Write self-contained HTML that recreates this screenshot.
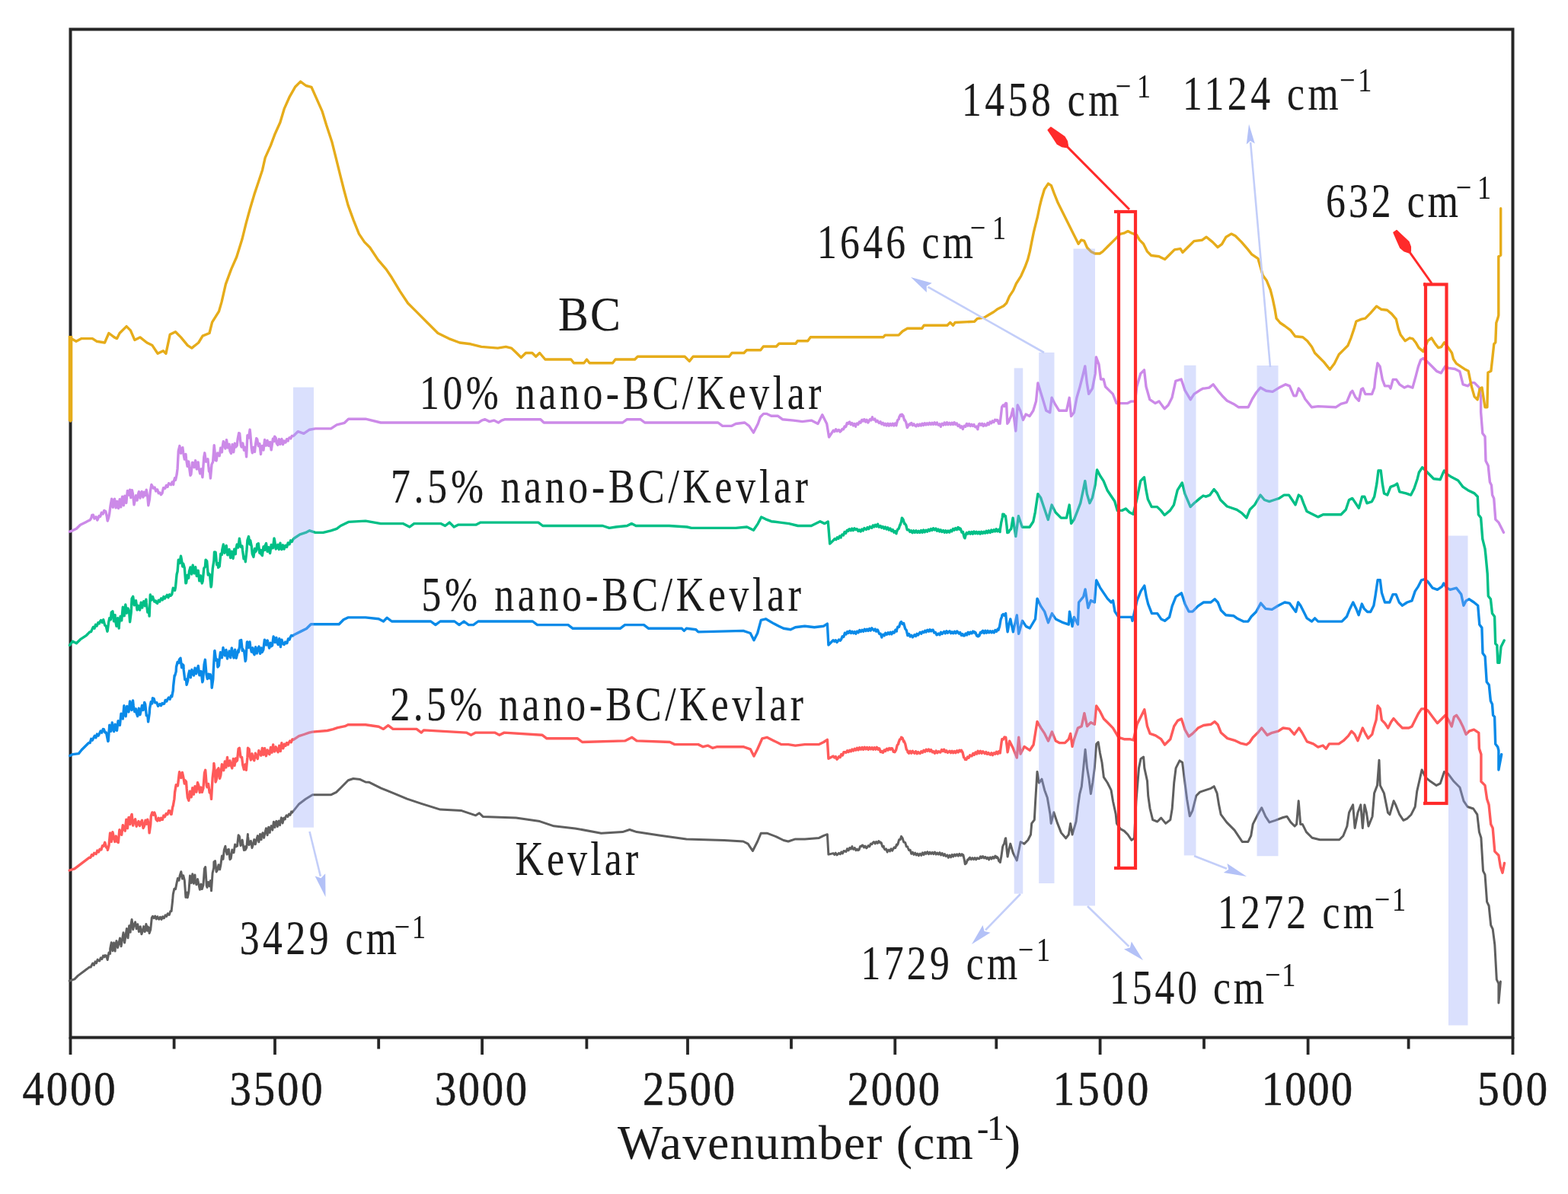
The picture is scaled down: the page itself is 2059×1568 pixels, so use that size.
<!DOCTYPE html><html><head><meta charset="utf-8"><style>html,body{margin:0;padding:0;background:#fff;overflow:hidden}svg{display:block}</style></head><body><svg width="2059" height="1568" viewBox="0 0 2059 1568">
<rect width="2059" height="1568" fill="#fff"/>
<rect x="92.5" y="38.5" width="1894" height="1324" fill="none" stroke="#262626" stroke-width="4"/>
<line x1="92.5" y1="1362" x2="92.5" y2="1385" stroke="#262626" stroke-width="3.8"/>
<line x1="228.6" y1="1362" x2="228.6" y2="1377.5" stroke="#262626" stroke-width="3.8"/>
<line x1="361.0" y1="1362" x2="361.0" y2="1385" stroke="#262626" stroke-width="3.8"/>
<line x1="497.2" y1="1362" x2="497.2" y2="1377.5" stroke="#262626" stroke-width="3.8"/>
<line x1="633.1" y1="1362" x2="633.1" y2="1385" stroke="#262626" stroke-width="3.8"/>
<line x1="770.4" y1="1362" x2="770.4" y2="1377.5" stroke="#262626" stroke-width="3.8"/>
<line x1="903.0" y1="1362" x2="903.0" y2="1385" stroke="#262626" stroke-width="3.8"/>
<line x1="1039.0" y1="1362" x2="1039.0" y2="1377.5" stroke="#262626" stroke-width="3.8"/>
<line x1="1175.3" y1="1362" x2="1175.3" y2="1385" stroke="#262626" stroke-width="3.8"/>
<line x1="1308.3" y1="1362" x2="1308.3" y2="1377.5" stroke="#262626" stroke-width="3.8"/>
<line x1="1444.6" y1="1362" x2="1444.6" y2="1385" stroke="#262626" stroke-width="3.8"/>
<line x1="1581.0" y1="1362" x2="1581.0" y2="1377.5" stroke="#262626" stroke-width="3.8"/>
<line x1="1717.6" y1="1362" x2="1717.6" y2="1385" stroke="#262626" stroke-width="3.8"/>
<line x1="1849.6" y1="1362" x2="1849.6" y2="1377.5" stroke="#262626" stroke-width="3.8"/>
<line x1="1986.5" y1="1362" x2="1986.5" y2="1385" stroke="#262626" stroke-width="3.8"/>
<polyline points="91.2,1288.1 97.9,1285.9 102.3,1281.4 111.2,1274.7 112.8,1273.5 114.5,1272.3 116.0,1271.1 117.7,1269.9 119.2,1270.1 120.2,1268.0 121.8,1265.0 123.4,1267.4 125.0,1262.9 126.6,1264.8 128.2,1260.1 129.1,1261.3 130.7,1262.0 132.3,1257.8 133.9,1259.5 135.5,1255.0 137.1,1256.9 138.0,1254.6 139.6,1254.9 141.2,1260.5 141.4,1259.1 143.0,1250.9 144.6,1252.4 144.7,1245.7 146.3,1237.7 147.9,1248.8 149.5,1238.0 151.1,1249.1 151.4,1243.5 153.0,1235.6 154.6,1244.5 155.9,1239.0 157.5,1232.0 159.1,1242.7 160.4,1234.6 162.0,1224.8 163.6,1238.0 164.8,1230.1 166.4,1219.6 168.0,1231.8 169.6,1215.8 171.2,1224.2 171.5,1216.7 173.1,1207.5 174.7,1220.8 176.0,1214.5 177.6,1210.9 179.2,1219.7 180.8,1213.8 182.4,1223.6 182.7,1218.9 184.3,1216.8 185.9,1226.8 187.1,1223.4 188.7,1216.6 190.3,1223.6 191.9,1213.6 193.5,1222.3 193.8,1216.7 195.4,1218.3 196.1,1225.6 197.7,1220.8 199.3,1205.3 200.5,1203.3 202.1,1205.7 203.7,1203.0 205.3,1206.9 206.9,1203.7 207.2,1205.5 208.8,1207.2 210.4,1204.2 212.0,1207.4 213.6,1203.7 213.9,1205.5 215.5,1205.8 217.1,1201.9 218.7,1203.5 220.3,1199.7 220.6,1201.1 222.2,1201.4 223.8,1196.7 225.1,1196.6 226.7,1182.0 227.3,1174.3 228.9,1167.2 230.5,1167.6 231.8,1160.9 233.4,1153.4 235.0,1156.2 236.2,1149.7 237.8,1144.8 239.4,1154.1 240.7,1149.7 242.3,1156.0 243.9,1178.4 244.1,1174.3 245.7,1172.0 246.3,1178.8 247.9,1170.9 249.5,1149.9 249.6,1154.2 251.2,1159.5 252.8,1147.8 254.4,1160.3 256.0,1149.1 256.3,1154.2 257.9,1161.7 259.5,1154.5 260.8,1160.9 262.4,1168.3 264.0,1161.1 265.3,1167.6 266.9,1162.4 268.5,1140.7 269.7,1138.6 271.3,1163.2 272.0,1165.4 273.6,1158.4 275.2,1163.7 276.4,1156.4 277.5,1169.8 279.1,1146.5 280.7,1139.6 280.9,1131.9 282.5,1130.6 284.1,1144.9 285.4,1143.0 287.0,1135.7 288.6,1141.9 289.8,1136.3 291.4,1124.1 293.0,1128.3 294.3,1116.2 295.9,1111.2 296.5,1116.2 298.1,1122.0 298.8,1116.2 300.4,1115.4 301.9,1128.7 303.2,1127.4 304.8,1116.0 305.4,1118.5 307.0,1119.7 308.6,1108.9 309.9,1111.8 311.5,1111.0 313.1,1096.8 314.4,1098.4 316.0,1110.6 316.6,1109.6 318.2,1103.1 318.8,1107.3 320.4,1116.6 322.0,1111.7 322.2,1116.2 323.8,1113.0 325.4,1095.6 325.5,1098.4 327.1,1109.5 327.8,1107.3 329.4,1104.4 331.0,1113.4 332.2,1109.6 333.8,1102.4 335.4,1108.8 336.7,1102.9 338.3,1097.6 339.9,1105.8 341.5,1095.4 343.1,1102.6 343.4,1098.4 345.0,1093.7 346.6,1100.3 347.9,1093.9 349.5,1087.7 351.1,1096.8 352.7,1086.3 354.3,1093.4 354.6,1089.5 356.2,1084.6 357.8,1090.1 359.4,1079.2 361.0,1086.5 361.2,1082.8 362.9,1078.3 364.4,1085.5 366.1,1078.1 367.6,1083.7 367.9,1080.5 369.5,1073.9 371.1,1081.0 372.7,1074.2 374.3,1076.0 374.6,1073.8 376.2,1070.8 377.8,1072.6 379.4,1069.1 381.0,1070.3 382.6,1065.9 383.6,1067.1 385.2,1065.1 386.8,1063.1 388.4,1061.1 390.0,1059.1 391.6,1057.1 392.5,1056.0 401.4,1049.3 410.4,1043.7 419.3,1043.7 434.9,1043.7 441.6,1040.4 448.3,1033.7 457.2,1024.7 463.9,1022.5 472.9,1023.6 480.0,1027.0 484.9,1027.3 500.4,1035.1 516.0,1041.3 534.6,1049.1 553.3,1055.3 578.1,1063.1 606.1,1064.6 624.7,1070.8 629.4,1067.7 634.1,1072.4 677.6,1074.0 708.7,1078.6 727.3,1084.8 755.3,1087.9 789.5,1094.2 817.5,1092.6 826.8,1089.5 836.1,1092.6 867.2,1097.3 901.4,1101.9 951.1,1103.5 976.0,1105.0 982.2,1108.2 988.4,1117.5 994.7,1105.0 999.3,1094.2 1007.1,1094.2 1019.5,1098.8 1028.9,1103.5 1035.1,1105.0 1044.4,1101.9 1056.8,1101.9 1075.5,1100.4 1081.7,1097.3 1086.4,1095.7 1087.9,1122.1 1094.1,1120.6 1095.7,1122.3 1097.3,1120.2 1098.9,1122.8 1100.0,1122.1 1101.6,1120.3 1103.2,1121.7 1104.8,1118.9 1106.4,1120.8 1108.0,1117.5 1109.4,1117.8 1111.0,1118.5 1112.6,1114.6 1114.2,1116.8 1115.8,1113.3 1117.4,1114.9 1119.0,1111.6 1119.1,1113.0 1120.7,1115.3 1122.3,1113.4 1123.9,1116.6 1125.5,1115.1 1126.4,1116.6 1128.0,1116.0 1129.6,1111.5 1131.2,1111.5 1131.3,1110.6 1132.9,1110.0 1134.5,1112.9 1136.1,1111.1 1137.7,1113.8 1138.6,1113.0 1140.2,1110.6 1141.8,1111.7 1143.4,1108.1 1145.0,1108.7 1145.9,1106.9 1147.5,1105.6 1149.1,1107.9 1150.7,1105.4 1152.3,1107.4 1153.9,1104.6 1155.5,1106.7 1155.6,1105.7 1157.2,1106.7 1158.8,1111.9 1160.4,1111.3 1160.4,1113.0 1162.0,1115.8 1163.6,1114.9 1165.2,1119.0 1165.3,1117.8 1166.9,1116.1 1168.5,1117.8 1170.1,1114.7 1171.7,1117.2 1172.6,1115.4 1174.2,1112.9 1175.8,1113.5 1177.4,1109.1 1177.4,1110.6 1179.0,1108.5 1180.6,1102.8 1182.2,1102.5 1183.5,1098.4 1185.1,1100.6 1186.7,1105.9 1187.1,1105.7 1188.7,1106.6 1190.3,1111.7 1191.9,1111.9 1192.0,1113.0 1193.6,1116.5 1195.2,1116.3 1196.8,1121.2 1196.8,1120.3 1198.4,1119.2 1200.0,1122.3 1201.6,1120.0 1203.2,1122.9 1204.8,1121.0 1206.4,1123.6 1206.6,1122.7 1208.2,1121.2 1209.8,1123.3 1211.4,1119.9 1213.0,1122.5 1214.6,1119.2 1216.2,1121.3 1216.3,1120.3 1217.9,1118.7 1219.5,1121.6 1221.1,1119.2 1222.7,1121.3 1224.3,1119.4 1225.9,1121.6 1226.0,1120.3 1227.6,1119.0 1229.2,1122.0 1230.8,1120.0 1232.4,1122.0 1234.0,1119.7 1235.6,1122.9 1235.7,1121.5 1237.3,1120.6 1238.9,1123.6 1240.5,1121.5 1240.6,1122.7 1242.2,1124.5 1243.8,1122.8 1245.4,1126.3 1245.4,1125.1 1247.0,1123.2 1248.6,1125.8 1250.2,1122.4 1251.8,1124.9 1253.4,1122.0 1255.0,1124.0 1255.1,1122.7 1256.7,1121.8 1258.3,1124.1 1259.9,1121.2 1261.5,1123.7 1263.1,1121.6 1264.7,1124.3 1264.8,1122.7 1266.4,1129.4 1267.3,1134.8 1268.9,1133.6 1270.5,1128.9 1272.1,1129.0 1272.1,1127.6 1273.7,1126.2 1275.3,1128.7 1276.9,1126.6 1278.5,1128.6 1280.1,1126.5 1281.7,1128.8 1283.3,1126.6 1284.3,1127.6 1285.9,1127.8 1287.5,1124.8 1289.1,1126.7 1289.1,1125.1 1290.7,1124.6 1292.3,1126.9 1293.9,1125.3 1295.5,1127.8 1297.1,1126.1 1298.7,1129.0 1298.8,1127.6 1300.4,1125.9 1302.0,1128.0 1303.6,1125.3 1305.2,1127.2 1306.8,1124.1 1308.4,1126.5 1308.6,1125.1 1310.2,1126.2 1311.8,1130.9 1313.4,1131.1 1313.4,1132.4 1315.0,1123.9 1316.6,1112.1 1317.1,1110.6 1318.7,1107.7 1320.3,1100.9 1320.7,1100.8 1322.3,1118.2 1323.1,1125.1 1324.7,1116.7 1326.3,1110.2 1326.8,1108.1 1330.4,1120.3 1335.3,1130.0 1340.1,1105.7 1345.0,1108.1 1349.8,1103.3 1353.5,1096.0 1354.7,1081.4 1358.3,1076.6 1359.5,1054.7 1362.0,1013.4 1364.4,1028.0 1368.0,1023.1 1371.7,1037.7 1375.3,1047.4 1379.0,1069.3 1380.2,1081.4 1383.8,1066.8 1388.7,1081.4 1393.5,1093.6 1399.6,1100.8 1403.3,1096.0 1405.7,1081.4 1408.1,1096.0 1413.0,1079.0 1415.4,1059.6 1417.8,1042.6 1420.3,1032.9 1422.7,1008.6 1425.1,984.3 1427.5,1008.6 1430.0,1023.1 1432.4,1042.6 1434.8,1028.0 1437.3,1008.6 1439.7,977.0 1442.1,974.6 1444.5,989.1 1447.0,1001.3 1449.4,1020.7 1454.3,1028.0 1459.1,1037.7 1461.5,1052.3 1465.2,1069.3 1466.4,1081.4 1471.3,1088.7 1476.1,1091.1 1481.0,1096.0 1485.8,1103.3 1489.5,1100.8 1491.9,1052.3 1495.5,1008.6 1498.0,996.4 1501.6,994.0 1502.8,1008.6 1506.5,1025.6 1507.7,1045.0 1510.1,1062.0 1513.7,1076.6 1519.8,1079.0 1524.7,1074.1 1530.7,1081.4 1536.8,1076.6 1539.2,1062.0 1541.7,1028.0 1544.1,1008.6 1549.0,998.9 1552.6,1001.3 1555.0,1020.7 1558.7,1049.8 1562.3,1071.7 1566.0,1064.4 1570.8,1045.0 1575.7,1040.1 1583.0,1037.7 1590.0,1035.3 1594.2,1032.7 1598.1,1041.6 1600.6,1056.9 1603.2,1069.7 1610.8,1079.9 1621.0,1090.1 1631.2,1105.4 1638.9,1105.4 1642.7,1097.7 1645.2,1082.4 1651.6,1069.7 1656.7,1060.7 1661.8,1072.2 1666.9,1079.9 1674.6,1077.3 1684.8,1073.5 1689.9,1072.2 1695.0,1079.9 1700.1,1085.0 1702.6,1082.4 1705.2,1051.8 1707.7,1082.4 1710.3,1082.4 1715.4,1092.6 1723.0,1100.3 1733.2,1102.8 1758.7,1102.8 1763.8,1097.7 1768.9,1085.0 1771.5,1067.1 1774.0,1062.0 1776.6,1056.9 1779.1,1087.5 1783.0,1067.1 1786.8,1056.9 1789.3,1087.5 1791.9,1056.9 1794.4,1067.1 1797.0,1085.0 1802.1,1072.2 1804.6,1041.6 1808.5,1031.4 1811.0,998.3 1812.3,1031.4 1817.4,1041.6 1822.5,1067.1 1825.0,1069.7 1830.1,1051.8 1832.7,1056.9 1837.8,1069.7 1842.9,1077.3 1848.0,1074.8 1853.1,1069.7 1858.2,1059.5 1860.7,1039.1 1867.1,1011.0 1872.2,1021.2 1878.6,1026.3 1886.2,1031.4 1891.3,1028.9 1896.4,1013.6 1901.5,1016.1 1909.2,1026.3 1916.9,1034.0 1922.0,1051.8 1927.1,1059.5 1934.7,1062.0 1939.8,1069.7 1942.4,1092.6 1944.9,1100.3 1947.5,1143.6 1950.0,1148.7 1952.6,1184.4 1955.1,1189.5 1957.7,1215.0 1960.2,1220.1 1962.8,1240.5 1965.3,1286.4 1967.9,1291.5 1967.9,1317.1 1970.4,1289.0" fill="none" stroke="#5F5F5F" stroke-width="3.0" stroke-linejoin="round" stroke-linecap="round" />
<polyline points="91.2,1143.0 97.9,1140.8 106.8,1134.1 115.7,1127.4 117.3,1126.2 118.9,1126.2 120.5,1122.5 122.1,1123.8 123.7,1120.3 124.6,1120.7 126.2,1121.5 127.8,1117.0 129.4,1119.0 131.0,1115.3 131.3,1116.2 132.9,1115.9 134.5,1110.7 136.1,1111.1 137.7,1106.3 138.0,1107.3 139.6,1112.8 141.2,1114.4 141.4,1116.2 143.0,1110.3 144.6,1093.9 144.7,1100.6 146.3,1105.3 147.9,1092.7 149.2,1098.4 150.8,1105.4 152.4,1098.1 153.7,1105.1 155.3,1106.4 156.9,1089.7 158.1,1093.9 159.7,1096.3 161.3,1083.7 162.6,1087.2 164.2,1091.2 165.8,1076.3 167.4,1087.7 169.0,1073.4 169.3,1078.3 170.9,1082.4 171.5,1073.8 173.1,1069.4 174.7,1084.0 176.0,1078.3 177.6,1075.8 179.2,1085.2 180.4,1082.8 182.0,1078.5 183.6,1084.5 184.9,1080.5 186.5,1077.3 188.1,1087.5 189.4,1085.0 191.0,1077.2 192.6,1082.2 193.8,1076.1 195.4,1083.8 196.1,1093.9 197.7,1082.8 198.3,1071.6 199.9,1066.9 201.5,1070.2 202.8,1067.1 204.4,1072.0 205.0,1076.1 206.6,1078.0 208.2,1074.3 209.8,1077.4 211.4,1074.2 211.7,1076.1 213.3,1076.4 214.9,1071.1 216.5,1072.6 218.1,1068.5 218.4,1069.4 220.0,1069.5 221.6,1064.6 222.9,1064.9 224.5,1069.4 225.1,1069.4 226.7,1059.8 227.3,1058.2 228.9,1049.2 229.6,1040.4 231.2,1030.8 231.8,1031.4 233.4,1032.0 234.0,1027.0 235.6,1013.6 236.2,1015.8 237.8,1021.5 239.4,1014.4 240.7,1020.3 242.3,1029.1 242.9,1024.7 244.5,1026.6 245.2,1035.9 246.3,1047.1 247.9,1051.3 249.5,1039.1 249.6,1042.6 251.2,1046.8 252.8,1034.6 254.4,1043.2 256.0,1032.6 256.3,1035.9 257.9,1040.1 259.5,1027.7 260.8,1031.4 262.4,1040.7 264.0,1034.1 265.3,1040.4 266.9,1035.1 268.5,1015.1 269.7,1011.3 271.3,1031.6 272.0,1033.7 273.6,1029.4 275.2,1041.0 276.4,1038.1 277.5,1049.3 279.1,1021.5 280.7,1008.2 280.9,1002.4 282.5,1015.4 283.1,1027.0 284.7,1022.0 285.4,1011.3 287.0,1008.9 288.6,1022.2 289.8,1018.0 291.4,1003.8 292.1,1006.9 293.7,1011.7 295.3,1000.0 296.9,1007.9 298.5,994.5 298.8,1000.2 300.4,1005.7 301.9,998.9 303.2,1004.6 304.8,1008.9 306.4,996.4 308.0,1005.4 309.6,995.9 309.9,1000.2 311.5,998.8 313.1,983.4 314.4,982.3 316.0,994.2 317.6,994.5 318.8,1004.6 320.4,1010.6 322.0,1004.0 323.3,1011.3 324.9,994.7 325.5,982.3 327.1,983.7 327.8,991.2 329.4,998.0 331.0,989.8 332.2,995.7 333.8,998.7 335.4,989.2 336.7,993.5 338.3,996.5 339.9,985.6 341.2,989.0 342.8,992.1 344.4,982.5 346.0,991.2 347.6,982.7 347.9,986.8 349.5,992.7 351.1,984.9 352.3,989.0 353.9,990.6 355.5,981.4 357.1,988.2 358.7,977.9 359.0,982.3 360.6,987.0 362.2,980.8 363.5,984.6 365.1,987.7 366.7,979.2 368.3,986.5 369.9,975.8 370.2,980.1 371.8,982.7 373.4,977.2 375.0,979.4 376.6,975.5 378.2,977.9 379.1,975.6 380.7,973.1 382.3,974.8 383.9,970.9 385.5,971.4 385.8,971.2 392.5,966.7 399.2,964.5 405.9,962.2 410.4,961.1 429.7,959.5 437.5,957.6 443.3,955.6 453.0,953.7 456.9,951.8 480.0,951.8 497.3,954.3 503.5,957.4 509.7,952.7 516.0,957.4 547.0,957.4 553.3,962.1 556.4,958.9 612.3,962.1 618.5,965.2 624.7,962.1 649.6,962.1 655.8,965.2 662.1,962.1 711.8,965.2 718.0,969.8 758.4,969.8 764.6,974.5 820.6,972.9 829.9,968.3 836.1,972.9 879.6,974.5 885.9,977.6 916.9,977.6 923.2,980.7 929.4,979.1 935.6,982.3 941.8,980.7 976.0,980.7 985.3,983.8 990.0,993.1 994.7,983.8 1000.9,969.8 1007.1,968.3 1016.4,972.9 1025.7,977.6 1035.1,977.6 1044.4,979.1 1056.8,977.6 1075.5,977.6 1081.7,974.5 1086.4,971.4 1087.9,996.2 1094.1,993.1 1095.7,995.0 1097.3,993.5 1098.9,997.2 1100.0,996.2 1101.6,993.5 1103.2,994.5 1104.8,990.5 1106.4,991.9 1108.0,987.6 1109.4,987.7 1111.0,988.3 1112.6,985.8 1114.2,987.5 1115.8,985.2 1117.4,986.8 1119.0,984.1 1119.1,985.3 1120.7,986.0 1122.3,983.2 1123.9,985.2 1125.5,982.3 1127.1,984.9 1128.7,981.7 1128.9,982.8 1130.5,984.1 1132.1,981.5 1133.7,984.3 1135.3,981.3 1136.9,983.8 1138.5,981.5 1138.6,982.8 1140.2,984.4 1141.8,981.6 1143.4,983.9 1145.0,981.7 1146.6,984.2 1148.2,981.7 1149.8,984.1 1151.4,981.4 1153.0,984.2 1153.1,982.8 1154.7,982.9 1156.3,987.5 1157.9,986.5 1158.0,987.7 1159.6,988.3 1161.2,985.1 1162.8,986.4 1162.9,985.3 1164.5,983.2 1166.1,985.2 1167.7,982.6 1169.3,984.2 1170.1,982.8 1171.7,983.0 1173.3,987.3 1174.9,986.3 1175.0,987.7 1176.6,984.9 1178.2,978.6 1179.8,976.8 1179.8,975.6 1181.4,971.3 1183.0,970.3 1183.5,968.3 1185.1,969.2 1186.7,974.0 1187.1,973.1 1188.7,976.8 1190.3,984.2 1191.9,986.1 1192.0,987.7 1193.6,989.1 1195.2,986.4 1196.8,989.1 1198.4,986.3 1199.3,987.7 1200.9,989.1 1202.5,986.7 1204.1,989.8 1205.7,987.6 1206.6,988.9 1208.2,989.4 1209.8,986.7 1211.4,988.3 1213.0,985.4 1214.6,987.2 1216.2,984.2 1216.3,985.3 1217.9,986.2 1219.5,984.1 1221.1,986.6 1221.1,985.3 1222.7,984.7 1224.3,987.8 1225.9,986.8 1226.0,987.7 1227.6,989.2 1229.2,986.1 1230.8,988.7 1232.4,986.7 1233.3,987.7 1234.9,988.1 1236.5,984.6 1238.1,986.4 1238.1,985.3 1239.7,984.2 1241.3,987.6 1242.9,985.8 1244.5,988.4 1245.4,987.7 1247.0,986.2 1248.6,988.6 1250.2,986.3 1251.8,988.7 1253.4,986.6 1255.0,988.6 1255.1,987.7 1256.7,985.9 1258.3,987.9 1259.9,985.2 1261.5,986.8 1262.4,985.3 1264.0,987.8 1265.6,994.7 1267.2,996.0 1267.3,997.4 1268.9,997.5 1270.5,994.1 1272.1,995.3 1273.7,991.7 1274.6,992.5 1276.2,992.7 1277.8,989.4 1279.4,991.3 1281.0,987.9 1282.6,990.1 1284.2,986.2 1284.3,987.7 1285.9,989.1 1287.5,986.4 1289.1,989.2 1290.7,986.8 1291.6,987.7 1293.2,989.7 1294.8,987.5 1296.4,990.3 1298.0,988.6 1298.8,990.1 1300.4,991.2 1302.0,988.8 1303.6,991.6 1303.7,990.1 1305.3,988.7 1306.9,990.2 1308.5,987.3 1310.1,990.0 1311.7,986.7 1313.3,988.9 1313.4,987.7 1315.0,975.6 1315.8,970.7 1317.4,971.0 1319.0,968.0 1320.6,969.9 1320.7,968.3 1322.3,980.2 1323.1,987.7 1324.7,979.6 1325.6,973.1 1330.4,982.8 1335.3,995.0 1337.7,968.3 1340.1,990.1 1345.0,980.4 1352.3,985.3 1357.1,978.0 1362.0,947.6 1366.8,956.1 1371.7,963.4 1376.5,973.1 1381.4,961.0 1386.3,973.1 1391.1,975.6 1398.4,975.6 1403.3,970.7 1405.7,963.4 1408.1,980.4 1410.5,970.7 1415.4,956.1 1420.3,953.7 1423.9,936.7 1427.5,953.7 1432.4,948.8 1437.3,951.3 1439.7,927.0 1444.5,934.3 1449.4,944.0 1454.3,948.8 1461.5,956.1 1468.8,968.3 1476.1,970.7 1483.4,970.7 1488.3,971.9 1493.1,951.3 1498.0,941.6 1502.8,931.8 1506.5,953.7 1510.1,963.4 1517.4,965.8 1524.7,970.7 1529.5,978.0 1536.8,970.7 1541.7,953.7 1546.5,946.4 1551.4,944.0 1556.2,958.6 1561.1,967.1 1566.0,963.4 1573.2,956.1 1580.5,952.5 1590.0,951.3 1595.1,947.7 1599.2,951.8 1603.4,962.3 1611.8,969.6 1622.2,972.7 1628.5,975.8 1636.8,977.9 1641.0,974.8 1645.2,968.5 1651.5,962.3 1656.7,956.0 1664.0,965.4 1670.3,962.3 1678.6,960.2 1684.9,956.0 1693.2,957.1 1699.5,964.4 1705.8,956.0 1709.9,962.3 1716.2,973.8 1724.6,976.9 1730.8,981.1 1737.1,979.0 1741.3,983.2 1745.4,976.9 1758.0,976.9 1764.2,972.7 1770.5,966.4 1774.7,960.2 1778.9,964.4 1783.0,972.7 1789.3,956.0 1792.4,962.3 1796.6,969.6 1801.8,964.4 1803.9,956.0 1807.1,945.6 1809.1,926.8 1812.3,930.9 1814.4,945.6 1818.5,949.7 1822.7,956.0 1826.9,947.7 1830.0,943.5 1835.2,949.7 1841.5,956.0 1849.9,956.0 1854.0,953.9 1858.2,945.6 1862.4,937.2 1866.6,930.9 1870.8,930.9 1874.9,933.0 1881.2,941.4 1887.5,949.7 1893.7,943.5 1897.9,939.3 1902.1,945.6 1906.3,953.9 1909.4,941.4 1912.5,939.3 1916.7,945.6 1920.9,953.9 1925.1,964.4 1929.2,960.2 1935.5,958.1 1941.8,962.3 1942.4,983.0 1944.9,990.6 1944.9,1026.3 1950.0,1031.4 1952.6,1049.3 1955.1,1056.9 1957.7,1082.4 1960.2,1087.5 1962.8,1118.1 1967.9,1123.2 1970.4,1138.5 1973.0,1146.2 1975.5,1133.4" fill="none" stroke="#FF5A5A" stroke-width="3.4" stroke-linejoin="round" stroke-linecap="round" />
<polyline points="91.7,992.5 95.5,990.6 103.3,989.6 107.2,984.8 115.0,977.0 116.6,975.4 118.2,975.5 119.8,970.3 121.4,972.1 122.7,969.2 124.3,966.3 125.9,968.8 127.5,964.1 129.1,966.2 130.5,963.4 132.1,960.1 133.7,962.1 135.3,957.5 136.3,957.6 137.9,962.0 139.5,962.0 140.2,965.4 141.8,973.5 142.2,973.1 143.8,952.1 144.1,953.7 145.7,960.3 147.3,949.0 148.0,953.7 149.6,960.6 151.2,951.3 151.9,957.6 153.5,959.3 155.1,946.6 155.8,949.8 157.4,952.4 159.0,937.1 159.7,942.0 161.3,943.9 162.9,926.8 163.5,932.3 165.1,940.8 166.7,927.4 167.4,932.3 169.0,934.9 170.6,920.9 171.3,924.6 172.9,932.6 174.5,919.9 175.2,926.5 176.8,934.6 178.4,930.9 179.1,936.2 180.7,940.6 182.3,930.2 183.9,938.7 184.9,934.3 186.5,926.5 188.1,932.5 189.7,922.4 190.7,924.6 192.3,939.6 193.9,940.2 194.6,947.9 196.2,936.8 196.6,930.4 198.2,921.7 199.8,923.9 200.4,916.8 202.0,917.3 203.6,922.7 204.3,922.6 205.9,922.7 207.5,927.3 208.2,926.5 209.8,924.6 211.4,926.7 213.0,923.5 214.0,924.6 215.6,924.2 217.2,919.4 218.8,921.0 219.9,918.7 221.5,916.1 223.1,918.3 224.7,913.8 225.7,914.8 227.3,906.7 227.6,901.2 229.2,886.9 229.6,887.6 231.2,881.9 231.5,876.0 233.1,869.5 234.7,870.5 235.4,866.3 237.0,864.2 238.6,876.8 239.3,872.1 240.9,873.7 241.2,879.9 242.8,892.6 244.4,892.1 245.1,899.3 246.7,893.6 247.1,887.6 248.7,881.1 250.3,889.8 251.9,879.5 252.9,883.8 254.5,887.0 256.1,877.1 257.7,884.7 258.7,879.9 260.3,874.4 261.9,886.9 262.6,881.8 264.2,881.6 265.8,895.7 266.5,893.5 268.1,872.5 269.4,866.3 271.0,885.4 272.3,891.5 273.9,885.2 275.5,890.8 276.2,885.7 277.8,893.7 278.2,903.2 279.8,891.7 280.1,883.8 281.7,855.0 282.0,854.6 283.6,867.3 285.2,866.1 285.9,876.0 287.5,873.9 287.9,868.2 289.5,856.6 289.8,860.4 291.4,863.7 293.0,850.5 293.7,854.6 295.3,860.9 296.9,853.5 298.5,865.0 299.5,860.4 301.1,855.1 302.7,863.7 304.3,850.9 305.4,856.6 307.0,863.9 308.6,853.2 310.2,864.3 311.2,860.4 312.8,853.8 313.1,856.6 314.7,848.8 315.1,841.0 316.7,840.5 318.3,854.5 319.0,852.7 320.6,855.1 322.2,868.2 322.8,866.3 324.4,843.0 324.8,843.0 326.4,850.5 328.0,842.9 328.7,848.8 330.3,856.1 331.9,850.8 332.5,856.6 334.1,859.7 335.7,849.8 337.3,858.0 338.4,852.7 340.0,849.1 341.6,858.4 343.2,850.9 344.2,856.6 345.8,853.3 347.4,840.1 348.1,841.0 349.7,847.0 351.3,841.1 352.0,844.9 353.6,851.0 355.2,844.3 355.9,848.8 357.5,847.8 359.1,836.0 359.7,837.1 361.3,843.5 362.9,837.5 363.6,843.0 365.2,846.5 366.8,838.7 368.4,849.6 370.0,840.2 371.4,844.9 373.0,846.5 374.6,843.1 375.3,844.9 376.9,844.5 378.5,838.9 380.1,840.0 381.1,837.1 382.7,834.5 384.3,835.0 385.9,833.9 386.9,833.2 394.7,829.4 402.5,825.5 408.3,819.7 429.7,819.7 445.2,819.7 451.1,813.8 456.9,810.9 480.0,810.9 497.3,812.8 503.5,816.0 508.2,811.3 514.4,816.0 565.7,816.0 571.9,820.6 578.1,816.0 596.8,816.0 603.0,820.6 609.2,816.0 615.4,820.6 621.6,820.6 627.9,816.0 699.4,816.0 705.6,820.6 746.0,820.6 752.2,825.3 814.4,825.3 820.6,820.6 845.5,820.6 851.7,825.3 895.2,825.3 898.3,828.4 901.4,825.3 913.8,826.8 916.9,829.9 976.0,828.4 985.3,831.5 990.0,840.8 994.7,831.5 999.3,814.4 1005.5,812.8 1016.4,819.1 1022.6,822.2 1028.9,825.3 1038.2,826.8 1044.4,823.7 1056.8,822.2 1069.3,823.7 1081.7,822.2 1086.4,819.1 1087.9,847.0 1094.1,840.8 1095.7,842.4 1097.3,840.7 1098.9,843.5 1100.0,842.4 1101.6,840.0 1103.2,841.3 1104.6,839.6 1106.2,835.7 1107.8,836.4 1109.4,831.2 1109.4,832.3 1111.0,833.0 1112.6,829.6 1114.2,831.2 1114.3,829.8 1115.9,828.6 1117.5,831.4 1119.1,829.4 1120.7,831.6 1122.3,829.6 1123.9,832.2 1124.0,831.1 1125.6,829.0 1127.2,830.8 1128.8,827.6 1128.9,828.6 1130.5,829.6 1132.1,827.3 1133.7,829.3 1135.3,826.3 1136.9,828.6 1138.5,826.2 1140.1,828.4 1141.7,825.6 1143.3,828.0 1144.9,824.9 1145.9,826.2 1147.5,827.9 1149.1,826.1 1150.7,829.1 1152.3,827.0 1153.1,828.6 1154.7,832.3 1156.3,832.2 1157.9,837.0 1158.0,835.9 1159.6,833.3 1161.2,834.8 1162.8,831.3 1162.9,832.3 1164.5,833.4 1166.1,830.8 1167.7,832.8 1169.3,830.2 1170.9,832.8 1172.5,829.9 1172.6,831.1 1174.2,831.0 1175.8,827.3 1177.4,829.0 1177.4,827.4 1179.0,823.1 1180.6,823.3 1182.2,817.9 1183.5,816.5 1185.1,819.4 1186.7,818.6 1187.1,820.1 1188.7,825.7 1190.3,827.8 1191.9,834.6 1192.0,833.5 1193.6,832.6 1195.2,835.9 1196.8,834.2 1198.4,836.8 1199.3,835.9 1200.9,833.6 1202.5,835.5 1204.1,832.4 1205.7,833.9 1206.6,832.3 1208.2,830.4 1209.8,832.2 1211.4,829.5 1213.0,830.8 1214.6,828.3 1216.2,830.0 1216.3,828.6 1217.9,827.4 1219.5,829.2 1221.1,826.8 1222.7,829.0 1223.6,827.4 1225.2,827.3 1226.8,831.0 1228.4,830.4 1230.0,833.8 1230.8,833.5 1232.4,832.0 1234.0,833.7 1235.6,830.3 1237.2,832.5 1238.1,831.1 1239.7,829.4 1241.3,831.8 1242.9,828.7 1244.5,831.2 1245.4,829.8 1247.0,828.9 1248.6,831.6 1250.2,829.9 1250.3,831.1 1251.9,831.7 1253.5,829.3 1255.1,831.6 1256.7,829.0 1257.6,829.8 1259.2,832.1 1260.8,830.6 1262.4,834.2 1264.0,832.6 1264.8,834.7 1266.4,834.8 1268.0,832.0 1269.6,833.9 1269.7,832.3 1271.3,830.3 1272.9,832.7 1274.5,830.1 1276.1,831.8 1277.7,829.1 1279.3,831.0 1279.4,829.8 1281.0,830.7 1282.6,835.0 1284.2,834.3 1284.3,835.9 1285.9,834.8 1287.5,830.4 1289.1,831.1 1289.1,829.8 1290.7,828.3 1292.3,831.4 1293.9,828.3 1295.5,831.1 1297.1,828.4 1298.7,830.8 1300.3,828.7 1301.9,830.8 1303.5,828.9 1303.7,829.8 1305.3,830.9 1306.9,827.6 1308.5,829.3 1310.1,826.2 1311.0,827.4 1312.6,822.5 1314.2,813.3 1315.8,809.3 1315.8,808.0 1317.4,806.6 1319.0,808.2 1320.6,805.5 1320.7,806.8 1322.3,823.5 1323.1,829.8 1324.7,821.0 1326.3,814.9 1326.8,812.9 1330.4,829.8 1335.3,808.0 1337.7,832.3 1342.5,815.3 1347.4,822.6 1352.3,825.0 1359.5,812.9 1362.0,786.1 1366.8,795.9 1371.7,803.1 1376.5,817.7 1381.4,805.6 1386.3,812.9 1396.0,817.7 1403.3,820.1 1404.5,803.1 1408.1,822.6 1410.5,810.4 1415.4,820.1 1416.6,791.0 1422.7,783.7 1425.1,774.0 1428.8,798.3 1432.4,788.6 1437.3,791.0 1439.7,761.9 1444.5,771.6 1449.4,778.9 1454.3,786.1 1459.1,791.0 1461.5,788.6 1464.0,803.1 1468.8,810.4 1476.1,810.4 1481.0,810.4 1485.8,810.4 1487.0,815.3 1493.1,788.6 1498.0,776.4 1502.8,769.1 1505.3,783.7 1507.7,793.4 1512.5,805.6 1519.8,805.6 1524.7,812.9 1529.5,815.3 1535.6,810.4 1539.2,795.9 1544.1,783.7 1551.4,778.9 1556.2,793.4 1561.1,803.1 1566.0,803.1 1573.2,795.9 1580.5,791.0 1590.0,791.0 1595.1,786.8 1599.2,791.0 1603.4,801.5 1609.7,807.7 1620.1,808.8 1624.3,811.9 1632.7,816.1 1638.9,816.1 1643.1,809.8 1649.4,803.5 1655.6,792.1 1661.9,799.4 1670.3,800.4 1678.6,795.2 1687.0,791.0 1693.2,792.1 1701.6,803.5 1704.7,791.0 1707.8,795.2 1712.0,803.5 1716.2,811.9 1722.5,816.1 1726.6,811.9 1730.8,816.1 1741.3,816.1 1762.1,816.1 1768.4,809.8 1772.6,799.4 1776.8,791.0 1780.9,799.4 1784.1,807.7 1788.3,793.1 1791.4,799.4 1795.6,803.5 1799.7,803.5 1803.9,795.2 1806.0,782.7 1809.1,761.8 1812.3,761.8 1814.4,778.5 1818.5,791.0 1824.8,791.0 1829.0,780.6 1833.2,780.6 1837.3,791.0 1841.5,795.2 1847.8,791.0 1854.0,788.9 1858.2,776.4 1862.4,770.1 1866.6,761.8 1870.8,760.7 1874.9,763.9 1881.2,772.2 1887.5,774.3 1893.7,770.1 1895.8,765.9 1900.0,772.2 1904.2,774.3 1912.5,772.2 1918.8,780.6 1921.9,795.2 1925.1,788.9 1929.2,786.8 1935.5,791.0 1940.7,795.2 1942.8,820.3 1945.9,824.4 1947.0,857.8 1950.1,862.0 1952.2,895.4 1955.3,899.6 1957.4,920.5 1959.5,924.7 1960.6,939.3 1962.6,941.4 1963.7,976.9 1966.8,981.1 1967.9,985.5 1967.9,1011.0 1971.7,990.6" fill="none" stroke="#0A8AE8" stroke-width="3.4" stroke-linejoin="round" stroke-linecap="round" />
<polyline points="91.5,847.3 95.3,842.2 100.4,844.8 105.5,839.7 113.2,834.6 114.8,833.0 116.4,831.4 118.0,829.8 119.6,829.5 120.8,826.9 122.4,823.4 124.0,825.2 125.6,820.3 127.2,822.0 128.8,817.8 130.4,818.8 131.0,816.7 132.6,814.5 134.2,817.4 135.8,813.8 136.1,815.5 137.7,821.1 139.3,822.3 140.9,829.2 141.2,828.2 142.8,816.3 143.8,811.6 145.4,813.7 146.3,804.0 147.9,802.8 149.5,815.8 151.1,807.6 151.4,814.2 153.0,822.3 154.6,811.7 156.2,825.1 156.5,819.3 158.1,809.5 159.7,814.8 161.3,797.3 161.6,804.0 163.2,808.7 164.8,793.9 166.4,805.2 168.0,798.9 169.6,803.3 170.6,816.7 172.2,804.1 173.1,786.1 174.7,783.4 176.3,794.7 176.9,791.2 178.5,788.7 180.1,801.1 181.7,795.3 182.0,798.9 183.6,801.1 185.2,791.3 186.8,798.1 187.1,793.8 188.7,789.7 190.3,795.7 191.9,787.1 192.2,791.2 193.8,804.1 195.4,801.5 196.1,809.1 197.3,781.0 198.9,788.0 200.5,783.5 201.2,786.1 202.8,790.1 204.4,789.0 205.0,791.2 206.6,792.4 208.2,788.3 209.8,790.0 210.1,788.7 211.7,785.9 213.3,788.0 214.9,783.5 216.5,786.0 217.8,783.6 219.4,781.4 221.0,784.7 222.6,780.8 224.1,782.3 225.7,780.5 227.3,772.2 228.0,773.4 229.6,775.3 230.5,770.8 232.1,754.2 233.1,750.4 234.3,735.1 235.9,739.6 237.5,730.2 238.2,733.8 239.8,744.0 240.7,740.2 242.3,745.9 243.9,765.9 244.5,765.7 246.1,755.4 247.7,759.2 248.4,750.4 250.0,745.0 251.6,754.0 253.2,742.2 253.5,746.6 255.1,752.9 256.7,744.6 258.3,756.6 258.6,753.0 260.2,749.3 261.8,762.9 263.4,755.9 263.7,760.6 265.3,765.9 266.2,763.2 267.8,746.2 269.4,744.2 270.1,735.1 271.7,736.9 273.3,755.1 273.9,753.0 275.5,754.6 277.1,770.8 277.7,768.3 279.3,746.5 280.9,736.1 281.5,724.9 283.1,725.1 284.7,741.7 286.3,739.7 286.6,745.3 288.2,743.8 289.8,727.1 291.4,728.4 291.7,722.3 293.3,715.0 294.9,726.2 295.6,719.8 297.2,716.5 298.8,728.9 299.4,724.9 301.0,721.5 302.6,732.6 304.2,724.1 304.5,730.0 306.1,733.4 307.7,721.3 309.3,727.7 309.6,722.3 311.2,715.1 312.8,719.1 314.4,707.1 314.7,709.6 316.3,718.3 317.9,717.0 318.5,722.3 320.1,733.9 321.7,731.2 322.3,737.7 323.9,723.5 324.9,709.6 326.5,704.5 328.1,715.0 328.7,709.6 330.3,717.6 331.3,727.4 332.9,731.5 334.5,720.4 335.1,724.9 336.7,722.9 337.7,714.7 339.3,713.7 340.9,726.3 342.5,722.4 342.8,727.4 344.4,729.6 346.0,717.9 347.6,722.3 347.9,717.2 349.5,713.6 351.1,724.2 352.7,718.7 353.0,722.3 354.6,726.6 356.2,715.4 356.8,719.8 358.4,719.7 360.0,706.9 360.6,709.6 362.2,721.0 363.2,719.8 364.8,715.3 366.4,721.5 368.0,713.2 368.3,717.2 369.9,721.6 371.5,715.8 373.1,721.1 373.4,719.8 375.0,716.2 376.6,718.4 378.2,713.0 378.5,714.7 380.1,714.8 381.7,709.8 383.3,711.4 384.9,708.3 386.1,707.0 393.8,701.9 401.4,699.4 406.5,696.8 414.2,699.4 424.4,699.4 434.6,696.8 442.2,694.3 447.3,690.5 457.6,685.4 480.0,684.1 500.0,687.6 529.1,687.6 537.9,692.0 543.7,687.6 578.7,687.6 584.5,690.5 590.3,686.1 596.2,692.0 602.0,689.1 625.3,689.1 631.1,686.1 706.9,686.1 712.7,690.5 791.4,690.5 800.1,693.4 808.9,692.0 823.4,690.5 829.3,687.6 835.1,690.5 878.8,690.5 902.1,692.0 907.9,693.4 966.2,693.4 980.8,692.0 989.5,696.3 995.3,687.6 999.7,678.9 1005.5,681.8 1012.8,684.7 1024.5,686.1 1036.1,687.6 1047.8,690.5 1065.3,690.5 1076.9,684.7 1082.8,687.6 1087.3,685.0 1089.7,714.1 1094.6,709.3 1096.2,707.5 1097.8,708.8 1099.4,705.7 1101.0,707.3 1102.6,704.1 1104.2,705.9 1104.3,704.4 1105.9,702.0 1107.5,702.9 1109.1,698.6 1110.7,700.2 1112.3,696.4 1113.9,697.3 1114.0,695.9 1115.6,694.7 1117.2,696.8 1118.8,694.1 1120.4,696.5 1122.0,693.9 1123.6,695.6 1123.7,694.7 1125.3,694.6 1126.9,697.4 1128.5,695.7 1128.6,697.1 1130.2,697.9 1131.8,695.1 1133.4,696.9 1135.0,693.5 1135.9,694.7 1137.5,695.3 1139.1,692.6 1140.7,694.7 1142.3,691.5 1143.1,692.3 1144.7,693.3 1146.3,689.9 1147.9,692.0 1149.5,689.2 1151.1,691.5 1152.7,688.3 1152.9,689.8 1154.5,692.2 1156.1,690.5 1157.7,693.1 1157.7,692.3 1159.3,691.6 1160.9,694.1 1162.5,692.1 1164.1,694.9 1165.7,692.8 1167.3,696.0 1167.4,694.7 1169.0,693.9 1170.6,697.4 1172.2,695.5 1173.8,699.2 1175.4,697.5 1177.0,700.8 1177.1,699.5 1178.7,695.4 1180.3,694.1 1181.9,688.9 1182.0,689.8 1183.6,684.8 1184.4,680.1 1186.0,682.3 1187.6,687.7 1188.1,687.4 1189.7,689.8 1191.3,695.8 1191.7,695.9 1193.3,695.7 1194.9,698.4 1196.5,696.8 1196.6,698.3 1198.2,699.6 1199.8,696.9 1201.4,699.3 1203.0,696.9 1204.6,699.4 1206.2,697.4 1206.3,698.3 1207.9,699.5 1209.5,696.5 1211.1,699.2 1212.7,696.1 1214.3,698.8 1215.9,696.2 1216.0,697.1 1217.6,698.2 1219.2,695.4 1220.8,697.1 1222.4,694.5 1224.0,696.5 1225.6,693.7 1225.7,694.7 1227.3,696.0 1228.9,694.0 1230.5,697.2 1232.1,695.1 1233.7,698.0 1235.3,695.8 1235.4,697.1 1237.0,698.5 1238.6,696.6 1240.2,699.2 1241.8,696.8 1243.4,699.2 1245.0,697.1 1245.1,698.3 1246.7,699.1 1248.3,696.2 1249.9,697.8 1251.5,694.4 1253.1,696.2 1254.7,693.6 1254.8,694.7 1256.4,695.6 1258.0,692.4 1259.6,695.0 1259.7,693.5 1261.3,694.3 1262.9,699.0 1264.5,698.4 1264.6,699.5 1266.2,705.7 1267.0,706.8 1268.6,701.1 1269.4,699.5 1271.0,701.0 1272.6,698.6 1274.2,701.1 1275.8,698.5 1277.4,701.1 1279.0,698.0 1279.1,699.5 1280.7,700.7 1282.3,698.3 1283.9,700.8 1285.5,698.5 1287.1,701.1 1288.7,698.3 1288.8,699.5 1290.4,700.4 1292.0,698.2 1293.6,700.2 1295.2,697.2 1296.8,699.8 1298.4,696.9 1298.6,698.3 1300.2,699.5 1301.8,696.0 1303.4,698.4 1305.0,695.8 1306.6,697.9 1308.2,694.8 1308.3,695.9 1309.9,697.8 1311.5,695.4 1313.1,698.4 1313.1,697.1 1314.7,686.4 1316.3,679.3 1316.8,675.3 1318.4,675.4 1320.0,678.8 1320.4,677.7 1322.0,690.5 1322.8,699.5 1324.4,699.2 1326.0,696.3 1327.6,694.7 1327.7,694.7 1330.1,680.1 1333.8,704.4 1337.4,677.7 1342.3,692.3 1347.1,692.3 1352.0,692.3 1356.8,685.0 1359.3,672.8 1362.9,648.6 1366.5,653.4 1371.4,668.0 1376.3,682.5 1381.1,663.1 1386.0,672.8 1393.3,680.1 1400.5,680.1 1404.2,663.1 1406.6,687.4 1410.3,682.5 1415.1,670.4 1418.8,660.7 1422.4,643.7 1424.8,631.6 1427.3,648.6 1430.9,660.7 1434.5,653.4 1438.2,636.4 1440.6,617.0 1444.3,624.3 1449.1,631.6 1454.0,643.7 1458.8,651.0 1463.7,658.3 1467.3,670.4 1473.4,670.4 1478.3,668.0 1483.1,672.8 1488.0,675.3 1492.8,655.8 1497.7,631.6 1502.5,626.7 1505.0,643.7 1507.4,655.8 1512.2,665.6 1519.5,665.6 1524.4,670.4 1529.2,676.5 1536.5,670.4 1541.4,663.1 1546.2,643.7 1552.3,634.0 1556.0,648.6 1563.2,665.6 1568.1,660.7 1575.4,654.6 1580.0,651.0 1583.5,652.2 1588.8,650.1 1594.2,642.6 1598.5,647.9 1602.7,656.5 1611.3,665.0 1624.1,669.3 1630.5,673.6 1636.9,680.0 1641.2,669.3 1647.6,662.9 1655.1,650.1 1660.4,656.5 1666.8,658.6 1673.2,656.5 1679.7,654.4 1686.1,650.1 1692.5,650.1 1696.8,656.5 1701.0,662.9 1705.3,650.1 1708.5,652.2 1711.7,660.8 1716.0,671.5 1722.4,674.7 1730.9,678.9 1737.4,675.7 1748.0,675.7 1760.9,675.7 1767.3,669.3 1771.5,656.5 1775.8,654.4 1780.1,660.8 1784.4,667.2 1788.6,652.2 1791.8,652.2 1795.0,660.8 1801.5,658.6 1804.7,652.2 1807.9,635.1 1810.0,618.0 1813.2,618.0 1815.3,635.1 1817.5,647.9 1821.8,650.1 1826.0,639.4 1831.4,637.3 1834.6,635.1 1837.8,645.8 1846.3,647.9 1852.7,650.1 1857.0,641.5 1861.3,628.7 1863.4,620.2 1867.7,613.8 1872.0,618.0 1876.2,622.3 1882.6,628.7 1891.2,629.8 1894.4,622.3 1896.5,618.0 1899.7,622.3 1906.2,626.6 1914.7,630.9 1921.1,639.4 1927.5,643.7 1936.1,647.9 1940.3,652.2 1941.4,675.7 1944.6,680.0 1946.8,707.8 1950.0,720.6 1951.0,730.0 1953.2,753.4 1954.3,782.7 1957.4,786.8 1959.5,805.6 1962.6,809.8 1963.7,845.3 1965.8,847.4 1966.8,870.4 1968.9,870.4 1971.0,849.5 1975.2,841.1" fill="none" stroke="#00BF86" stroke-width="3.4" stroke-linejoin="round" stroke-linecap="round" />
<polyline points="91.5,698.1 95.3,696.8 100.4,694.3 105.5,689.2 113.2,685.4 114.8,684.6 116.4,683.8 118.0,683.0 118.3,682.8 119.9,680.1 120.8,676.4 122.4,676.2 124.0,681.1 124.6,680.3 126.2,678.9 127.8,683.1 128.5,681.5 130.1,677.5 131.7,678.3 133.3,673.2 133.6,673.9 135.2,675.0 136.8,670.4 138.4,672.9 138.7,671.3 140.3,678.2 141.2,684.1 142.8,679.2 143.8,673.9 145.1,663.7 146.7,655.1 148.3,666.3 148.9,658.6 150.5,655.2 152.1,666.9 153.7,658.4 154.0,663.7 155.6,667.6 157.2,655.7 158.8,665.9 159.1,658.6 160.7,652.2 162.3,663.7 163.9,651.2 164.2,656.0 165.8,660.4 167.4,644.5 168.0,648.4 169.6,650.1 170.6,643.3 171.8,653.5 173.4,643.6 174.4,648.4 176.0,662.9 176.9,658.6 178.5,650.8 180.1,657.0 180.8,650.9 182.4,645.7 184.0,654.2 184.6,648.4 186.2,645.5 187.8,653.0 189.4,646.3 189.7,650.9 191.3,650.4 192.2,643.3 193.8,652.6 194.8,663.7 196.4,655.7 197.3,645.8 198.9,636.5 199.9,638.2 201.5,641.1 203.1,640.1 204.7,644.9 205.0,643.3 206.6,642.9 208.2,647.7 209.8,647.0 211.4,649.6 213.0,647.7 214.6,640.7 215.2,640.7 216.8,641.4 218.4,637.4 220.0,639.4 221.6,634.7 222.9,635.6 224.5,636.7 226.1,632.9 227.7,636.4 228.0,633.1 229.6,627.8 230.5,630.5 232.1,623.2 233.1,615.2 234.3,592.2 235.9,585.6 237.5,595.3 238.2,589.7 239.8,587.7 240.7,594.8 242.3,603.2 243.9,596.4 244.5,602.4 246.1,612.6 247.7,606.1 248.4,612.7 250.0,624.4 250.9,622.9 252.5,607.4 253.5,607.6 255.1,613.7 256.7,604.8 258.3,616.1 258.6,610.1 260.2,606.9 261.1,615.2 262.7,621.9 264.3,615.9 265.9,626.8 266.2,622.9 267.8,600.2 268.8,594.8 270.4,606.2 271.3,605.0 272.9,602.8 274.5,619.1 275.2,615.2 276.4,628.0 278.0,609.9 279.6,606.5 281.2,584.6 281.5,587.1 283.1,604.5 284.1,605.0 285.7,595.0 286.6,597.3 288.2,598.6 289.8,588.1 291.4,593.8 291.7,589.7 293.3,579.7 294.3,582.0 295.9,589.1 297.5,577.6 299.1,588.1 299.4,584.6 301.0,583.3 301.9,592.2 303.5,595.5 305.1,583.8 306.7,593.7 308.3,582.3 309.6,587.1 311.2,585.1 312.1,576.9 313.7,568.7 314.7,569.3 316.3,584.8 317.2,587.1 318.8,582.0 320.4,591.3 321.1,587.1 322.7,590.8 323.6,599.9 324.9,571.8 326.5,574.9 328.1,564.3 328.7,569.3 330.3,588.8 331.3,594.8 332.9,587.4 334.5,593.4 335.1,587.1 336.7,575.7 337.7,576.9 339.3,585.7 340.9,582.8 342.5,596.5 342.8,592.2 344.4,585.6 346.0,591.1 347.6,577.4 347.9,582.0 349.5,585.1 351.1,578.4 352.7,585.5 353.0,582.0 354.6,580.5 356.2,590.9 356.8,587.1 358.4,576.3 360.0,579.6 360.6,573.1 362.2,575.3 363.2,582.0 364.8,584.4 366.4,576.7 368.0,583.4 368.3,579.5 369.9,576.5 371.5,583.7 373.1,579.1 373.4,580.8 375.0,581.1 376.6,576.7 378.2,579.0 378.5,576.9 380.1,574.7 381.7,576.0 383.3,572.4 384.9,572.7 386.1,571.8 391.2,566.7 398.9,569.3 406.5,564.2 414.2,562.9 434.6,562.9 442.2,557.8 452.4,555.3 457.6,550.2 480.0,550.2 500.0,555.0 628.2,555.0 632.6,552.1 636.9,550.7 642.8,553.6 648.6,552.1 654.4,555.0 658.8,552.1 663.2,550.7 709.8,550.7 714.2,555.0 817.6,555.0 823.4,550.7 840.9,550.7 846.7,555.0 942.9,555.0 948.7,559.4 960.4,559.4 966.2,556.5 977.9,555.0 983.7,559.4 989.5,568.1 995.3,556.5 998.3,547.7 1002.6,543.4 1007.0,543.4 1012.8,546.3 1021.6,546.3 1027.4,550.7 1042.0,552.1 1053.6,553.6 1065.3,552.1 1074.0,556.5 1079.8,544.8 1085.7,556.5 1088.6,574.0 1094.4,565.2 1096.0,566.7 1097.6,563.7 1099.2,566.2 1099.9,565.2 1101.5,564.5 1103.1,567.0 1104.3,566.0 1105.9,563.5 1107.5,563.9 1109.1,559.9 1109.1,561.1 1110.7,560.4 1112.3,555.6 1113.9,556.5 1114.0,555.1 1115.6,554.1 1117.2,557.4 1118.8,555.5 1120.4,558.9 1122.0,556.5 1123.6,560.2 1123.7,558.7 1125.3,556.0 1126.9,557.4 1128.5,553.9 1130.1,555.2 1131.7,551.4 1133.3,553.0 1133.4,551.4 1135.0,550.8 1136.6,554.0 1138.2,551.4 1139.8,555.1 1140.7,553.8 1142.3,550.7 1143.9,551.9 1145.5,547.8 1145.6,549.0 1147.2,551.1 1148.8,550.1 1150.4,553.7 1152.0,552.2 1152.9,553.8 1154.5,555.5 1156.1,553.7 1157.7,557.0 1159.3,555.3 1160.9,558.3 1162.5,556.3 1162.6,557.5 1164.2,558.9 1165.8,556.2 1167.4,559.1 1169.0,556.5 1170.6,558.7 1172.2,556.2 1173.8,559.0 1175.4,556.1 1177.0,558.7 1177.1,557.5 1178.7,551.7 1180.3,550.4 1180.8,547.8 1182.4,544.7 1184.0,546.2 1184.4,544.1 1186.0,546.0 1187.6,551.9 1188.1,551.4 1189.7,554.6 1191.3,561.5 1191.7,561.1 1193.3,557.4 1194.9,558.1 1195.3,556.3 1196.9,555.6 1198.5,558.6 1200.1,556.9 1201.4,558.7 1203.0,559.7 1204.6,557.3 1206.2,559.2 1207.8,557.0 1209.4,558.9 1211.0,556.2 1211.1,557.5 1212.7,558.4 1214.3,555.7 1215.9,557.9 1217.5,555.8 1219.1,557.6 1220.7,555.3 1220.8,556.3 1222.4,557.4 1224.0,555.4 1225.6,557.3 1227.2,554.9 1228.8,557.3 1230.4,555.0 1230.6,556.3 1232.2,558.1 1233.8,556.8 1235.4,560.2 1235.4,558.7 1237.0,556.4 1238.6,558.2 1240.2,555.0 1240.3,556.3 1241.9,557.7 1243.5,554.7 1245.1,557.6 1246.7,555.4 1248.3,557.6 1249.9,555.2 1251.5,557.5 1253.1,554.7 1254.7,557.3 1254.8,556.3 1256.4,556.0 1258.0,559.5 1259.6,558.0 1261.2,561.5 1262.8,559.8 1264.4,563.5 1264.6,562.3 1266.2,559.3 1267.8,560.3 1269.4,556.4 1269.4,557.5 1271.0,559.1 1272.6,556.6 1274.2,559.4 1275.8,557.3 1277.4,559.5 1279.0,557.6 1279.1,558.7 1280.7,560.8 1282.3,560.0 1283.9,563.8 1284.0,562.3 1285.6,556.9 1286.4,556.3 1288.0,558.3 1289.6,556.3 1291.2,559.4 1292.8,556.9 1293.7,558.7 1295.3,558.9 1296.9,555.5 1298.5,557.6 1300.1,554.1 1301.7,555.7 1303.3,552.9 1303.4,553.8 1305.0,554.4 1306.6,551.3 1308.2,552.4 1308.3,551.4 1309.9,551.6 1311.5,556.2 1313.1,554.8 1313.1,556.3 1314.7,542.9 1315.6,534.4 1317.2,532.1 1318.8,533.6 1319.2,532.0 1320.8,529.5 1321.6,529.6 1322.8,556.3 1324.4,554.3 1326.0,549.9 1327.6,546.7 1327.7,546.6 1330.1,536.8 1333.8,566.0 1336.2,532.0 1339.8,539.3 1343.5,551.4 1347.1,544.1 1352.0,546.6 1356.8,539.3 1360.5,527.1 1362.9,502.9 1366.5,515.0 1370.2,527.1 1373.8,539.3 1378.7,541.7 1381.1,522.3 1384.8,529.6 1390.8,539.3 1400.5,539.3 1404.2,522.3 1406.6,546.6 1410.3,541.7 1413.9,522.3 1417.5,510.1 1421.2,495.6 1424.8,481.0 1427.3,502.9 1429.7,517.4 1434.5,510.1 1438.2,490.7 1439.4,468.9 1443.0,478.6 1445.5,498.0 1449.1,498.0 1451.5,507.7 1456.4,512.6 1461.3,517.4 1466.1,529.6 1471.0,529.6 1480.7,529.6 1485.5,527.1 1490.4,527.1 1492.8,507.7 1497.7,490.7 1502.5,485.9 1505.0,507.7 1509.8,524.7 1517.1,529.6 1522.0,527.1 1529.2,536.8 1534.1,532.0 1539.0,522.3 1543.8,500.4 1551.1,498.0 1556.0,512.6 1563.2,524.7 1568.1,517.4 1575.4,512.6 1580.0,510.1 1581.4,510.1 1587.8,509.1 1593.1,504.8 1599.5,513.3 1604.9,519.7 1611.3,526.2 1619.8,530.4 1626.2,534.7 1639.1,534.7 1644.4,524.0 1649.7,515.5 1655.1,509.1 1662.6,513.3 1671.1,514.4 1679.7,509.1 1688.2,504.8 1693.5,506.9 1698.9,519.7 1702.1,519.7 1705.3,510.1 1709.6,515.5 1713.8,524.0 1722.4,534.7 1730.9,533.6 1754.4,534.7 1760.9,530.4 1768.3,528.3 1773.7,515.5 1775.8,513.3 1780.1,521.9 1784.4,526.2 1787.6,511.2 1789.7,510.1 1792.9,517.6 1801.5,517.6 1804.7,509.1 1805.7,498.4 1808.9,477.0 1812.1,481.3 1815.3,498.4 1818.5,506.9 1823.9,506.9 1826.0,510.1 1829.2,498.4 1833.5,498.4 1837.8,504.8 1844.2,509.1 1848.5,506.9 1854.9,509.1 1859.1,494.1 1862.4,481.3 1865.6,472.7 1868.8,470.6 1874.1,474.9 1880.5,481.3 1886.9,487.7 1892.3,489.8 1897.6,481.3 1901.9,483.4 1910.4,484.5 1916.8,487.7 1921.1,504.8 1927.5,506.9 1931.8,502.6 1936.1,502.6 1942.5,509.1 1944.6,521.9 1944.6,541.1 1946.8,568.9 1950.0,573.2 1951.0,605.2 1954.2,611.6 1956.4,633.0 1958.5,637.3 1959.6,650.1 1961.7,654.4 1963.8,682.1 1968.1,686.4 1972.4,695.0 1974.5,699.2" fill="none" stroke="#CC8AE8" stroke-width="3.4" stroke-linejoin="round" stroke-linecap="round" />
<polyline points="92.5,553.0 92.5,444.0 100.0,448.2 107.1,444.6 121.4,444.6 126.8,448.2 137.5,450.0 142.9,437.5 150.0,442.9 153.6,444.6 157.1,437.5 166.1,428.6 171.4,433.9 176.8,446.4 183.9,442.9 192.9,450.0 200.0,453.6 207.1,464.3 214.3,460.7 217.9,464.3 223.2,439.3 230.4,435.7 237.5,442.9 246.4,453.6 251.8,457.1 260.7,450.0 266.1,441.1 275.0,437.5 278.6,423.2 287.5,408.9 291.1,396.4 296.4,373.2 303.6,353.6 310.7,337.5 317.9,314.3 323.2,292.9 328.6,273.2 333.9,255.4 339.3,239.3 344.6,223.2 348.2,207.1 355.4,191.1 360.7,176.8 367.9,160.7 373.2,142.9 380.4,126.8 387.5,114.3 394.6,107.1 401.8,112.5 408.9,114.3 416.1,130.4 423.2,146.4 428.6,164.3 435.7,185.7 441.1,207.1 446.4,228.6 451.8,250.0 457.1,269.6 464.3,289.3 471.4,307.1 478.6,317.9 485.7,325.0 496.4,341.1 507.1,353.6 514.3,364.3 525.0,382.1 535.7,398.2 546.4,408.9 560.7,423.2 575.0,437.5 589.3,444.6 603.6,450.0 617.9,451.8 632.1,455.4 653.6,457.1 664.3,455.4 671.4,457.1 677.0,462.3 684.3,469.5 690.4,463.5 698.9,463.5 703.7,468.3 708.6,463.5 715.9,472.0 749.8,472.0 753.5,476.8 766.8,476.8 770.5,472.0 774.1,476.8 804.5,476.8 808.1,472.0 833.6,472.0 837.3,468.3 899.2,468.3 905.3,474.4 910.1,468.3 957.5,468.3 961.1,463.5 976.9,463.5 980.5,459.8 998.8,459.8 1002.4,455.0 1019.4,455.0 1023.0,451.3 1044.9,451.3 1047.3,447.7 1060.7,447.7 1064.3,442.8 1160.0,442.8 1162.2,440.1 1180.1,440.1 1185.2,435.0 1191.6,431.2 1210.7,431.2 1213.3,427.3 1243.9,427.3 1247.7,423.5 1251.5,427.3 1254.1,423.5 1279.6,422.2 1283.4,418.4 1292.3,417.1 1298.7,413.3 1305.1,409.5 1310.2,405.7 1317.9,401.8 1321.7,398.0 1325.5,389.1 1330.6,381.4 1334.4,372.5 1340.8,362.3 1345.9,350.8 1349.7,340.6 1352.3,330.4 1354.8,317.7 1357.4,304.9 1359.9,294.7 1362.5,284.5 1365.1,271.7 1367.6,261.5 1371.4,248.8 1376.5,241.1 1380.4,243.7 1384.2,253.9 1389.3,266.6 1394.4,276.8 1399.5,287.0 1404.6,297.2 1409.7,307.4 1413.5,315.1 1416.1,320.2 1419.9,315.1 1423.7,316.4 1427.6,325.3 1432.7,330.4 1437.8,333.0 1444.1,333.0 1448.0,330.4 1455.6,322.8 1463.3,315.1 1470.9,307.4 1476.0,306.2 1481.1,303.6 1486.2,306.2 1492.6,308.7 1496.4,315.1 1501.5,320.2 1506.6,330.4 1511.7,335.5 1521.9,336.8 1529.6,340.6 1534.7,335.5 1542.3,327.9 1550.0,326.6 1552.9,331.5 1559.7,324.7 1567.9,316.6 1578.7,315.2 1584.2,311.2 1592.3,317.9 1599.1,324.7 1604.5,320.7 1610.0,311.2 1616.8,307.1 1622.2,309.8 1630.3,317.9 1638.5,327.4 1643.9,334.2 1652.0,339.7 1658.3,361.7 1663.3,368.6 1668.2,380.5 1671.2,392.4 1674.1,406.2 1676.1,418.1 1681.1,424.0 1687.0,428.0 1694.9,433.9 1700.8,441.8 1710.7,442.8 1716.7,447.7 1722.6,455.6 1726.5,463.5 1732.5,469.5 1738.4,475.4 1746.3,485.3 1752.2,477.4 1758.2,465.5 1764.1,459.6 1770.0,453.7 1774.0,443.8 1778.0,431.9 1780.9,422.0 1787.8,419.1 1792.8,418.1 1799.7,411.1 1807.6,402.2 1813.5,406.2 1821.5,407.2 1827.4,412.1 1833.3,419.1 1836.3,431.9 1839.2,439.8 1845.2,447.7 1851.1,443.8 1855.1,444.8 1859.0,449.7 1863.0,456.6 1868.9,461.6 1874.8,447.7 1879.8,443.8 1884.7,451.7 1888.7,456.6 1892.6,455.6 1896.6,449.7 1902.5,457.6 1906.5,463.5 1908.5,471.5 1912.4,477.4 1918.3,481.3 1924.3,485.3 1928.2,487.3 1932.2,507.0 1936.1,520.9 1940.1,524.8 1943.1,511.0 1946.0,509.0 1950.0,534.7 1952.9,534.7 1953.9,489.2 1957.9,487.3 1959.9,469.5 1961.8,451.7 1963.8,449.7 1964.8,424.0 1966.8,418.1 1967.8,414.1 1967.8,337.0 1970.7,335.0 1970.7,273.7" fill="none" stroke="#E6AC1A" stroke-width="3.4" stroke-linejoin="round" stroke-linecap="round" />
<line x1="92.5" y1="441" x2="92.5" y2="553" stroke="#E6AC1A" stroke-width="5.6"/>
<rect x="385" y="508.6" width="27.0" height="578.1" fill="#95A6F9" fill-opacity="0.35"/>
<rect x="1331.7" y="483.4" width="11.5" height="690.3" fill="#95A6F9" fill-opacity="0.35"/>
<rect x="1364.2" y="462.9" width="20.3" height="697.1" fill="#95A6F9" fill-opacity="0.35"/>
<rect x="1409.5" y="326.6" width="28.5" height="862.9" fill="#95A6F9" fill-opacity="0.35"/>
<rect x="1554.8" y="479.8" width="15.7" height="643.6" fill="#95A6F9" fill-opacity="0.35"/>
<rect x="1650.5" y="480" width="28.0" height="644.2" fill="#95A6F9" fill-opacity="0.35"/>
<rect x="1902" y="703.5" width="25.5" height="643.0" fill="#95A6F9" fill-opacity="0.35"/>
<rect x="1469" y="278" width="22" height="862" fill="none" stroke="#FF2A2A" stroke-width="4.2"/><line x1="1463" y1="278" x2="1469" y2="278" stroke="#FF2A2A" stroke-width="4.2"/><line x1="1463" y1="1140" x2="1469" y2="1140" stroke="#FF2A2A" stroke-width="4.2"/>
<rect x="1872" y="373.5" width="27.5" height="681.5" fill="none" stroke="#FF2A2A" stroke-width="4.2"/><line x1="1869" y1="373.5" x2="1872" y2="373.5" stroke="#FF2A2A" stroke-width="4.2"/><line x1="1869" y1="1055" x2="1872" y2="1055" stroke="#FF2A2A" stroke-width="4.2"/>
<line x1="1483" y1="275" x2="1398.9" y2="190.1" stroke="#FF2A2A" stroke-width="3.0"/><polygon points="1379.8,167.2 1388.2,172.9 1397.9,179.5 1401.3,185.4 1402.3,191.4 1400.2,193.5 1394.2,192.4 1388.3,189.0 1381.8,179.2 1376.2,170.8" fill="#FF2A2A" stroke="#FF2A2A" stroke-width="1.5" stroke-linejoin="round"/>
<line x1="1880" y1="372" x2="1849.1" y2="328.3" stroke="#FF2A2A" stroke-width="3.0"/><polygon points="1834.0,302.6 1841.4,309.5 1849.9,317.6 1852.3,324.0 1852.3,330.1 1849.8,331.8 1844.1,329.8 1838.8,325.4 1834.0,314.7 1830.0,305.4" fill="#FF2A2A" stroke="#FF2A2A" stroke-width="1.5" stroke-linejoin="round"/>
<line x1="1371" y1="463" x2="1218.6" y2="376.8" stroke="#C3CEF9" stroke-width="2.6" stroke-opacity="1"/><polygon points="1196.0,364.0 1223.8,371.7 1216.7,375.7 1216.9,383.9" fill="#B3C1F7" fill-opacity="1"/>
<line x1="1668" y1="482" x2="1642.1" y2="186.9" stroke="#C3CEF9" stroke-width="2.6" stroke-opacity="1"/><polygon points="1640.0,163.0 1647.8,188.4 1641.9,185.0 1636.8,189.4" fill="#B3C1F7" fill-opacity="1"/>
<line x1="406.5" y1="1092" x2="420.9" y2="1150.8" stroke="#C3CEF9" stroke-width="2.6" stroke-opacity="1"/><polygon points="427.5,1178.0 413.6,1150.5 421.5,1153.2 427.2,1147.2" fill="#B3C1F7" fill-opacity="1"/>
<line x1="1340" y1="1174" x2="1294.1" y2="1221.3" stroke="#C3CEF9" stroke-width="2.6" stroke-opacity="1"/><polygon points="1276.0,1240.0 1290.5,1215.0 1292.6,1222.9 1300.5,1224.8" fill="#B3C1F7" fill-opacity="1"/>
<line x1="1428" y1="1190" x2="1482.4" y2="1242.9" stroke="#C3CEF9" stroke-width="2.6" stroke-opacity="1"/><polygon points="1501.0,1261.0 1476.0,1246.5 1483.9,1244.4 1485.8,1236.5" fill="#B3C1F7" fill-opacity="1"/>
<line x1="1568" y1="1124" x2="1610.9" y2="1140.8" stroke="#C3CEF9" stroke-width="2.6" stroke-opacity="1"/><polygon points="1637.0,1151.0 1606.7,1146.1 1613.3,1141.7 1611.4,1134.0" fill="#B3C1F7" fill-opacity="1"/>
<text transform="scale(0.9,1)" x="32.89" y="1451.5" style="font-family:'Liberation Serif','DejaVu Serif',serif;font-size:63px" fill="#1a1a1a" stroke="#1a1a1a" stroke-width="0.6" textLength="135.56" lengthAdjust="spacing">4000</text>
<text transform="scale(0.9,1)" x="335.11" y="1451.5" style="font-family:'Liberation Serif','DejaVu Serif',serif;font-size:63px" fill="#1a1a1a" stroke="#1a1a1a" stroke-width="0.6" textLength="135.56" lengthAdjust="spacing">3500</text>
<text transform="scale(0.9,1)" x="634.44" y="1451.5" style="font-family:'Liberation Serif','DejaVu Serif',serif;font-size:63px" fill="#1a1a1a" stroke="#1a1a1a" stroke-width="0.6" textLength="134.44" lengthAdjust="spacing">3000</text>
<text transform="scale(0.9,1)" x="937.78" y="1451.5" style="font-family:'Liberation Serif','DejaVu Serif',serif;font-size:63px" fill="#1a1a1a" stroke="#1a1a1a" stroke-width="0.6" textLength="134.44" lengthAdjust="spacing">2500</text>
<text transform="scale(0.9,1)" x="1236.44" y="1451.5" style="font-family:'Liberation Serif','DejaVu Serif',serif;font-size:63px" fill="#1a1a1a" stroke="#1a1a1a" stroke-width="0.6" textLength="134.67" lengthAdjust="spacing">2000</text>
<text transform="scale(0.9,1)" x="1536.44" y="1451.5" style="font-family:'Liberation Serif','DejaVu Serif',serif;font-size:63px" fill="#1a1a1a" stroke="#1a1a1a" stroke-width="0.6" textLength="139.56" lengthAdjust="spacing">1500</text>
<text transform="scale(0.9,1)" x="1840.89" y="1451.5" style="font-family:'Liberation Serif','DejaVu Serif',serif;font-size:63px" fill="#1a1a1a" stroke="#1a1a1a" stroke-width="0.6" textLength="132.44" lengthAdjust="spacing">1000</text>
<text transform="scale(0.9,1)" x="2155.78" y="1451.5" style="font-family:'Liberation Serif','DejaVu Serif',serif;font-size:63px" fill="#1a1a1a" stroke="#1a1a1a" stroke-width="0.6" textLength="102.00" lengthAdjust="spacing">500</text>
<text transform="scale(1.0,1)" x="811.00" y="1521.5" style="font-family:'Liberation Serif','DejaVu Serif',serif;font-size:63px" fill="#1a1a1a" stroke="#1a1a1a" stroke-width="0.15" textLength="466.80" lengthAdjust="spacing">Wavenumber (cm</text>
<text transform="scale(1.0,1)" x="1283.00" y="1497.0" style="font-family:'Liberation Serif','DejaVu Serif',serif;font-size:46px" fill="#1a1a1a" stroke="#1a1a1a" stroke-width="0.15" textLength="36.00" lengthAdjust="spacing">-1</text>
<text transform="scale(1.0,1)" x="1319.00" y="1521.5" style="font-family:'Liberation Serif','DejaVu Serif',serif;font-size:63px" fill="#1a1a1a" stroke="#1a1a1a" stroke-width="0.15" textLength="57.00" lengthAdjust="spacing">)</text>
<text transform="scale(0.95,1)" x="771.58" y="434.0" style="font-family:'Liberation Serif','DejaVu Serif',serif;font-size:63px" fill="#1a1a1a" stroke="#1a1a1a" stroke-width="0.15" textLength="86.32" lengthAdjust="spacing">BC</text>
<text transform="scale(0.82,1)" x="671.95" y="536.7" style="font-family:'Liberation Serif','DejaVu Serif',serif;font-size:63px" fill="#1a1a1a" stroke="#1a1a1a" stroke-width="0.15" textLength="643.17" lengthAdjust="spacing">10% nano-BC/Kevlar</text>
<text transform="scale(0.82,1)" x="625.61" y="660.0" style="font-family:'Liberation Serif','DejaVu Serif',serif;font-size:63px" fill="#1a1a1a" stroke="#1a1a1a" stroke-width="0.15" textLength="668.29" lengthAdjust="spacing">7.5% nano-BC/Kevlar</text>
<text transform="scale(0.82,1)" x="674.88" y="802.0" style="font-family:'Liberation Serif','DejaVu Serif',serif;font-size:63px" fill="#1a1a1a" stroke="#1a1a1a" stroke-width="0.15" textLength="608.05" lengthAdjust="spacing">5% nano-BC/Kevlar</text>
<text transform="scale(0.82,1)" x="624.88" y="946.5" style="font-family:'Liberation Serif','DejaVu Serif',serif;font-size:63px" fill="#1a1a1a" stroke="#1a1a1a" stroke-width="0.15" textLength="661.71" lengthAdjust="spacing">2.5% nano-BC/Kevlar</text>
<text transform="scale(0.82,1)" x="825.12" y="1148.6" style="font-family:'Liberation Serif','DejaVu Serif',serif;font-size:63px" fill="#1a1a1a" stroke="#1a1a1a" stroke-width="0.15" textLength="197.07" lengthAdjust="spacing">Kevlar</text>
<text transform="scale(0.82,1)" x="1540.24" y="152.0" style="font-family:'Liberation Serif','DejaVu Serif',serif;font-size:63px" fill="#1a1a1a" stroke="#1a1a1a" stroke-width="0.15" textLength="251.71" lengthAdjust="spacing">1458 cm</text><text transform="scale(0.82,1)" x="1786.59" y="128.4" style="font-family:'Liberation Serif','DejaVu Serif',serif;font-size:44px" fill="#1a1a1a" stroke="#1a1a1a" stroke-width="0.15" textLength="56.10" lengthAdjust="spacing">&#8722;1</text>
<text transform="scale(0.82,1)" x="1308.54" y="338.6" style="font-family:'Liberation Serif','DejaVu Serif',serif;font-size:63px" fill="#1a1a1a" stroke="#1a1a1a" stroke-width="0.15" textLength="250.00" lengthAdjust="spacing">1646 cm</text><text transform="scale(0.82,1)" x="1553.66" y="314.0" style="font-family:'Liberation Serif','DejaVu Serif',serif;font-size:44px" fill="#1a1a1a" stroke="#1a1a1a" stroke-width="0.15" textLength="57.32" lengthAdjust="spacing">&#8722;1</text>
<text transform="scale(0.82,1)" x="1893.90" y="144.2" style="font-family:'Liberation Serif','DejaVu Serif',serif;font-size:63px" fill="#1a1a1a" stroke="#1a1a1a" stroke-width="0.15" textLength="249.51" lengthAdjust="spacing">1124 cm</text><text transform="scale(0.82,1)" x="2145.37" y="119.7" style="font-family:'Liberation Serif','DejaVu Serif',serif;font-size:44px" fill="#1a1a1a" stroke="#1a1a1a" stroke-width="0.15" textLength="51.22" lengthAdjust="spacing">&#8722;1</text>
<text transform="scale(0.82,1)" x="2123.17" y="285.4" style="font-family:'Liberation Serif','DejaVu Serif',serif;font-size:63px" fill="#1a1a1a" stroke="#1a1a1a" stroke-width="0.15" textLength="212.20" lengthAdjust="spacing">632 cm</text><text transform="scale(0.82,1)" x="2331.71" y="261.0" style="font-family:'Liberation Serif','DejaVu Serif',serif;font-size:44px" fill="#1a1a1a" stroke="#1a1a1a" stroke-width="0.15" textLength="56.10" lengthAdjust="spacing">&#8722;1</text>
<text transform="scale(0.82,1)" x="383.90" y="1253.4" style="font-family:'Liberation Serif','DejaVu Serif',serif;font-size:63px" fill="#1a1a1a" stroke="#1a1a1a" stroke-width="0.15" textLength="251.46" lengthAdjust="spacing">3429 cm</text><text transform="scale(0.82,1)" x="631.71" y="1232.3" style="font-family:'Liberation Serif','DejaVu Serif',serif;font-size:44px" fill="#1a1a1a" stroke="#1a1a1a" stroke-width="0.15" textLength="50.00" lengthAdjust="spacing">&#8722;1</text>
<text transform="scale(0.82,1)" x="1378.54" y="1285.8" style="font-family:'Liberation Serif','DejaVu Serif',serif;font-size:63px" fill="#1a1a1a" stroke="#1a1a1a" stroke-width="0.15" textLength="250.98" lengthAdjust="spacing">1729 cm</text><text transform="scale(0.82,1)" x="1630.49" y="1262.4" style="font-family:'Liberation Serif','DejaVu Serif',serif;font-size:44px" fill="#1a1a1a" stroke="#1a1a1a" stroke-width="0.15" textLength="51.22" lengthAdjust="spacing">&#8722;1</text>
<text transform="scale(0.82,1)" x="1776.83" y="1318.0" style="font-family:'Liberation Serif','DejaVu Serif',serif;font-size:63px" fill="#1a1a1a" stroke="#1a1a1a" stroke-width="0.15" textLength="247.56" lengthAdjust="spacing">1540 cm</text><text transform="scale(0.82,1)" x="2025.85" y="1294.8" style="font-family:'Liberation Serif','DejaVu Serif',serif;font-size:44px" fill="#1a1a1a" stroke="#1a1a1a" stroke-width="0.15" textLength="49.02" lengthAdjust="spacing">&#8722;1</text>
<text transform="scale(0.82,1)" x="1950.00" y="1219.0" style="font-family:'Liberation Serif','DejaVu Serif',serif;font-size:63px" fill="#1a1a1a" stroke="#1a1a1a" stroke-width="0.15" textLength="250.00" lengthAdjust="spacing">1272 cm</text><text transform="scale(0.82,1)" x="2201.22" y="1196.0" style="font-family:'Liberation Serif','DejaVu Serif',serif;font-size:44px" fill="#1a1a1a" stroke="#1a1a1a" stroke-width="0.15" textLength="50.00" lengthAdjust="spacing">&#8722;1</text>
</svg></body></html>
